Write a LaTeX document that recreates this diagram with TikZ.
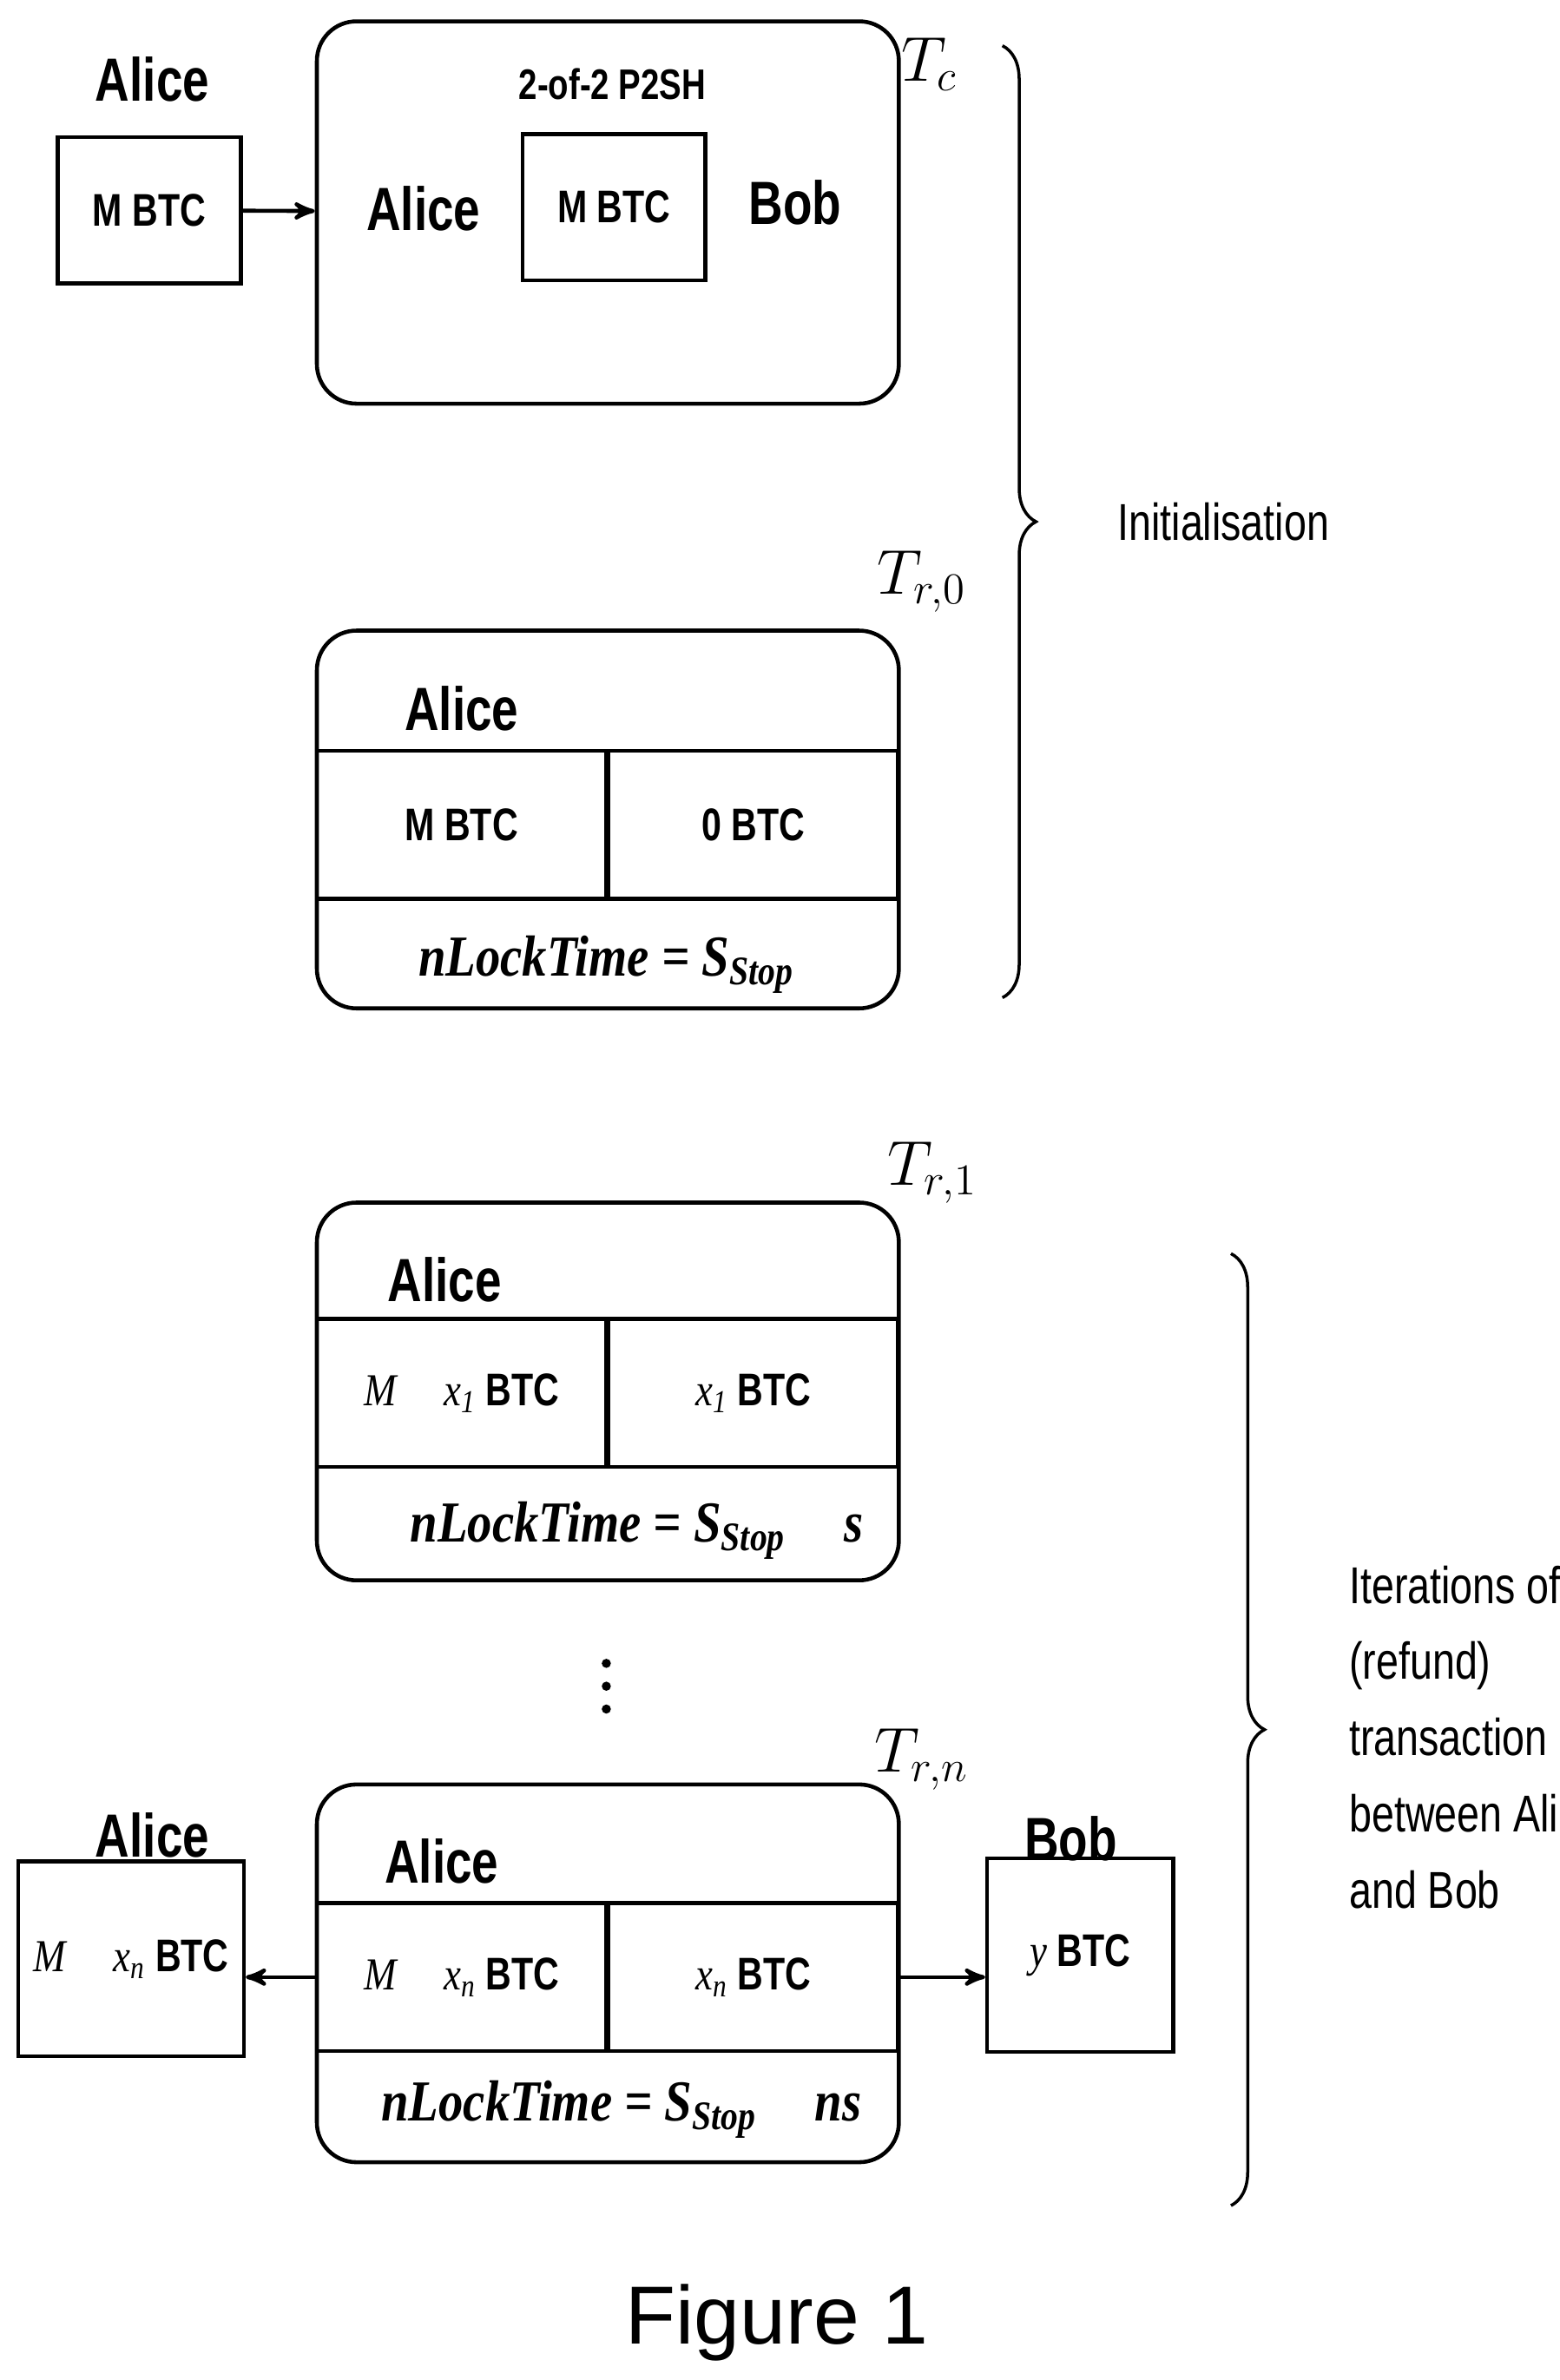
\documentclass[tikz,border=0pt]{standalone}
\usepackage{fontspec}
\setmainfont{Liberation Sans}[FakeStretch=0.78]
\newfontfamily\plainsans{Liberation Sans}
\newfontfamily\mathlike{Liberation Serif}[FakeStretch=0.85]
\usetikzlibrary{arrows,decorations.pathreplacing,positioning}
\newdimen\ux
\ux=0.01755cm

\begin{document}
\begin{tikzpicture}[x=\ux,y=-\ux,line width=1.3pt]
  \tikzset{
    >=stealth',
    who/.style={font=\bfseries\fontsize{20}{22}\selectfont},
    amt/.style={font=\bfseries\fontsize{15}{17}\selectfont},
    lock/.style={font=\mathlike\bfseries\itshape\fontsize{19}{21}\selectfont},
    tlab/.style={font=\mathlike\itshape\fontsize{20}{22}\selectfont},
    tx/.style={draw,rounded corners=26\ux,minimum width=382*\ux,minimum height=248*\ux,inner sep=0pt},
    cell/.style={draw,minimum width=190*\ux,minimum height=97*\ux,inner sep=0pt},
    wallet/.style={draw,inner sep=0pt},
    note/.style={font=\fontsize{17}{25}\selectfont,align=left},
    brace/.style={decorate,decoration={brace,amplitude=22\ux},line width=1pt}
  }
  \useasboundingbox (0,0) rectangle (1024,1562.5);

  % funding transaction
  \node[who] at (100,52) {Alice};
  \node[wallet,minimum width=120*\ux,minimum height=96*\ux,amt] (a0) at (98,138) {M BTC};
  \node[tx,minimum height=251*\ux] (tc) at (399,139.5) {};
  \node[font=\bfseries\fontsize{14}{16}\selectfont] at (402,55) {2-of-2 P2SH};
  \node[who] at (278,137) {Alice};
  \node[wallet,minimum width=120*\ux,minimum height=96*\ux,amt] (p2sh) at (403,136) {M BTC};
  \node[who] at (522,133) {Bob};
  \node[tlab] at (610,42) {$T_c$};
  \draw[->] (a0) -- (tc);

  % refund transactions
  \node[tx] (r0) at (399,538) {};
  \node[tlab] at (605,382) {$T_{r,0}$};
  \node[who] at (303,465) {Alice};
  \node[cell,amt] (r0a) at (303,541.5) {M BTC};
  \node[cell,amt] (r0b) at (494.5,541.5) {0 BTC};
  \node[lock] at (398,633) {nLockTime = S\textsubscript{Stop}};

  \node[tx] (r1) at (399,913.5) {};
  \node[tlab] at (612,770) {$T_{r,1}$};
  \node[who] at (292,840) {Alice};
  \node[cell,amt] (r1a) at (303,914.5) {\textmd{\mathlike\itshape M}\quad\textmd{\mathlike\itshape x\textsubscript{1}} BTC};
  \node[cell,amt] (r1b) at (494.5,914.5) {\textmd{\mathlike\itshape x\textsubscript{1}} BTC};
  \node[lock] at (418,1005) {nLockTime = S\textsubscript{Stop}\quad s};

  \foreach \y in {1092,1107,1122}
    \fill (398,\y) circle (3);

  \node[tx] (rn) at (399,1295.5) {};
  \node[tlab] at (605,1155) {$T_{r,n}$};
  \node[who] at (290,1222) {Alice};
  \node[cell,amt] (rna) at (303,1298) {\textmd{\mathlike\itshape M}\quad\textmd{\mathlike\itshape x\textsubscript{n}} BTC};
  \node[cell,amt] (rnb) at (494.5,1298) {\textmd{\mathlike\itshape x\textsubscript{n}} BTC};
  \node[lock] at (408,1385) {nLockTime = S\textsubscript{Stop}\quad ns};

  % payouts
  \node[who] at (100,1205) {Alice};
  \node[wallet,minimum width=148*\ux,minimum height=128*\ux,amt] (an) at (86,1286) {\textmd{\mathlike\itshape M}\quad\textmd{\mathlike\itshape x\textsubscript{n}} BTC};
  \node[who] at (703,1207) {Bob};
  \node[wallet,minimum width=122*\ux,minimum height=127*\ux,amt] (bn) at (709,1283.5) {\textmd{\mathlike\itshape y} BTC};
  \draw[->] (rna) -- (an.east |- rna);
  \draw[->] (rnb) -- (bn.west |- rnb);

  % phases
  \draw[brace] (658,30) -- (658,655) node[midway,anchor=west,note,xshift=68\ux] (init) {Initialisation};
  \draw[brace] (808,823) -- (808,1448) node[midway,anchor=west,note,xshift=70\ux,yshift=-5\ux] (iter)
    {Iterations of\\(refund)\\transaction\\between Alice\\and Bob};

  \node[font=\plainsans\fontsize{27}{30}\selectfont] (fig) at (510,1525) {Figure 1};
\end{tikzpicture}
\end{document}
